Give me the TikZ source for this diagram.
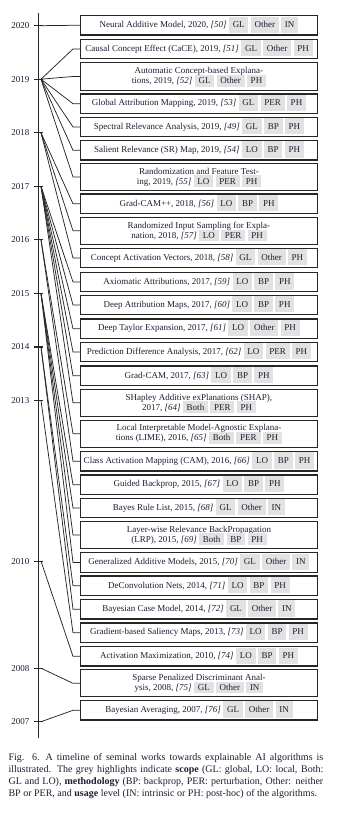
\documentclass[tikz,border=0pt]{standalone}
\usepackage{fontspec}
\setmainfont{Liberation Serif}
\definecolor{ink}{RGB}{28,28,52}
\definecolor{tagc}{RGB}{226,226,226}
\newcommand\tg[1]{\hspace{1.9pt}\smash{\setlength\fboxsep{0pt}\colorbox{tagc}{\rule[-4.2pt]{0pt}{13.1pt}\hspace{3pt}#1\hspace{3pt}}}}
\newcommand\ts[1]{\hspace{1.9pt}\smash{\setlength\fboxsep{0pt}\colorbox{tagc}{\rule[-2.4pt]{0pt}{9.4pt}\hspace{3pt}#1\hspace{3pt}}}}
\newcommand\rf[1]{\textit{[#1]}}
\begin{document}
\begin{tikzpicture}[x=0.8pt,y=-0.8pt,
  box/.style={draw=black!85, line width=0.9pt, minimum width=189.4pt, minimum height=15.6pt,
    inner sep=0pt, anchor=west, font=\fontsize{7.2}{8}\selectfont, text=ink, align=center},
  dbox/.style={box, minimum height=21.8pt},
  conn/.style={line width=0.6pt, black!85},
  axisline/.style={line width=0.9pt, black!85},
  yl/.style={anchor=east, inner sep=0pt, font=\fontsize{7.2}{8}\selectfont, text=ink}]
\useasboundingbox (0,0) rectangle (359,814);
% axis
\draw[axisline] (38.3,13.3) -- (38.3,738.3);
% years
\foreach \yr/\yy in {2020/25.7,2019/79.2,2018/132.8,2017/186.3,2016/239.9,2015/293.4,2014/347,2013/400.5,2010/561.1,2008/668.2,2007/721.7}{
  \node[yl] (t\yr) at (29.5,\yy) {\yr};
  \draw[axisline] (34,\yy) -- (43,\yy);
  \coordinate (y\yr) at (41,\yy);
}
% boxes
\node[box] (b1) at (80,25.3) {Neural Additive Model, 2020, \rf{50}\tg{GL}\tg{Other}\tg{IN}};
\node[box] (b2) at (80,49) {Causal Concept Effect (CaCE), 2019, \rf{51}\tg{GL}\tg{Other}\tg{PH}};
\node[dbox] (b3) at (80,76.5) {Automatic Concept-based Explana-\\tions, 2019, \rf{52}\ts{GL}\ts{Other}\ts{PH}};
\node[box] (b4) at (80,103.7) {Global Attribution Mapping, 2019, \rf{53}\tg{GL}\tg{PER}\tg{PH}};
\node[box] (b5) at (80,127) {Spectral Relevance Analysis, 2019, \rf{49}\tg{GL}\tg{BP}\tg{PH}};
\node[box] (b6) at (80,150.3) {Salient Relevance (SR) Map, 2019, \rf{54}\tg{LO}\tg{BP}\tg{PH}};
\node[dbox] (b7) at (80,177) {Randomization and Feature Test-\\ing, 2019, \rf{55}\ts{LO}\ts{PER}\ts{PH}};
\node[box] (b8) at (80,203.8) {Grad-CAM++, 2018, \rf{56}\tg{LO}\tg{BP}\tg{PH}};
\node[dbox] (b9) at (80,230.8) {Randomized Input Sampling for Expla-\\nation, 2018, \rf{57}\ts{LO}\ts{PER}\ts{PH}};
\node[box] (b10) at (80,258) {Concept Activation Vectors, 2018, \rf{58}\tg{GL}\tg{Other}\tg{PH}};
\node[box] (b11) at (80,282) {Axiomatic Attributions, 2017, \rf{59}\tg{LO}\tg{BP}\tg{PH}};
\node[box] (b12) at (80,305) {Deep Attribution Maps, 2017, \rf{60}\tg{LO}\tg{BP}\tg{PH}};
\node[box] (b13) at (80,328.7) {Deep Taylor Expansion, 2017, \rf{61}\tg{LO}\tg{Other}\tg{PH}};
\node[box] (b14) at (80,352) {Prediction Difference Analysis, 2017, \rf{62}\tg{LO}\tg{PER}\tg{PH}};
\node[box] (b15) at (80,375.7) {Grad-CAM, 2017, \rf{63}\tg{LO}\tg{BP}\tg{PH}};
\node[dbox] (b16) at (80,402.8) {SHapley Additive exPlanations (SHAP),\\2017, \rf{64}\ts{Both}\ts{PER}\ts{PH}};
\node[dbox] (b17) at (80,433.7) {Local Interpretable Model-Agnostic Explana-\\tions (LIME), 2016, \rf{65}\ts{Both}\ts{PER}\ts{PH}};
\node[box] (b18) at (80,461.3) {Class Activation Mapping (CAM), 2016, \rf{66}\tg{LO}\tg{BP}\tg{PH}};
\node[box] (b19) at (80,484.7) {Guided Backprop, 2015, \rf{67}\tg{LO}\tg{BP}\tg{PH}};
\node[box] (b20) at (80,508) {Bayes Rule List, 2015, \rf{68}\tg{GL}\tg{Other}\tg{IN}};
\node[dbox] (b21) at (80,535) {Layer-wise Relevance BackPropagation\\(LRP), 2015, \rf{69}\ts{Both}\ts{BP}\ts{PH}};
\node[box] (b22) at (80,562.5) {Generalized Additive Models, 2015, \rf{70}\tg{GL}\tg{Other}\tg{IN}};
\node[box] (b23) at (80,585.7) {DeConvolution Nets, 2014, \rf{71}\tg{LO}\tg{BP}\tg{PH}};
\node[box] (b24) at (80,609.3) {Bayesian Case Model, 2014, \rf{72}\tg{GL}\tg{Other}\tg{IN}};
\node[box] (b25) at (80,632.7) {Gradient-based Saliency Maps, 2013, \rf{73}\tg{LO}\tg{BP}\tg{PH}};
\node[box] (b26) at (80,656.3) {Activation Maximization, 2010, \rf{74}\tg{LO}\tg{BP}\tg{PH}};
\node[dbox] (b27) at (80,683.3) {Sparse Penalized Discriminant Anal-\\ysis, 2008, \rf{75}\ts{GL}\ts{Other}\ts{IN}};
\node[box] (b28) at (80,710.3) {Bayesian Averaging, 2007, \rf{76}\tg{GL}\tg{Other}\tg{IN}};
% connectors
\foreach \yr/\b in {2020/b1,2019/b2,2019/b3,2019/b4,2019/b5,2019/b6,2019/b7,
  2018/b8,2018/b9,2018/b10,2017/b11,2017/b12,2017/b13,2017/b14,2017/b15,2017/b16,
  2016/b17,2016/b18,2015/b19,2015/b20,2015/b21,2015/b22,2014/b23,2014/b24,
  2013/b25,2010/b26,2008/b27,2007/b28}{
  \draw[conn] (y\yr) -- ([xshift=-5.6pt]\b.west) -- (\b.west);
}
% caption
\node[anchor=north west, inner sep=0pt, text width=251.8pt, align=justify,
  font=\fontsize{8}{9.45}\selectfont, text=ink] (cap) at (8.3,753.7)
  {\parfillskip=0pt Fig. 6.\hspace{0.6em}A timeline of seminal works towards explainable AI algorithms is\linebreak
  illustrated. The grey highlights indicate \textbf{scope} (GL: global, LO: local, Both:\linebreak
  GL and LO), \textbf{methodology} (BP: backprop, PER: perturbation, Other: neither\linebreak
  BP or PER, and \textbf{usage} level (IN: intrinsic or PH: post-hoc) of the algorithms.};
\end{tikzpicture}
\end{document}
